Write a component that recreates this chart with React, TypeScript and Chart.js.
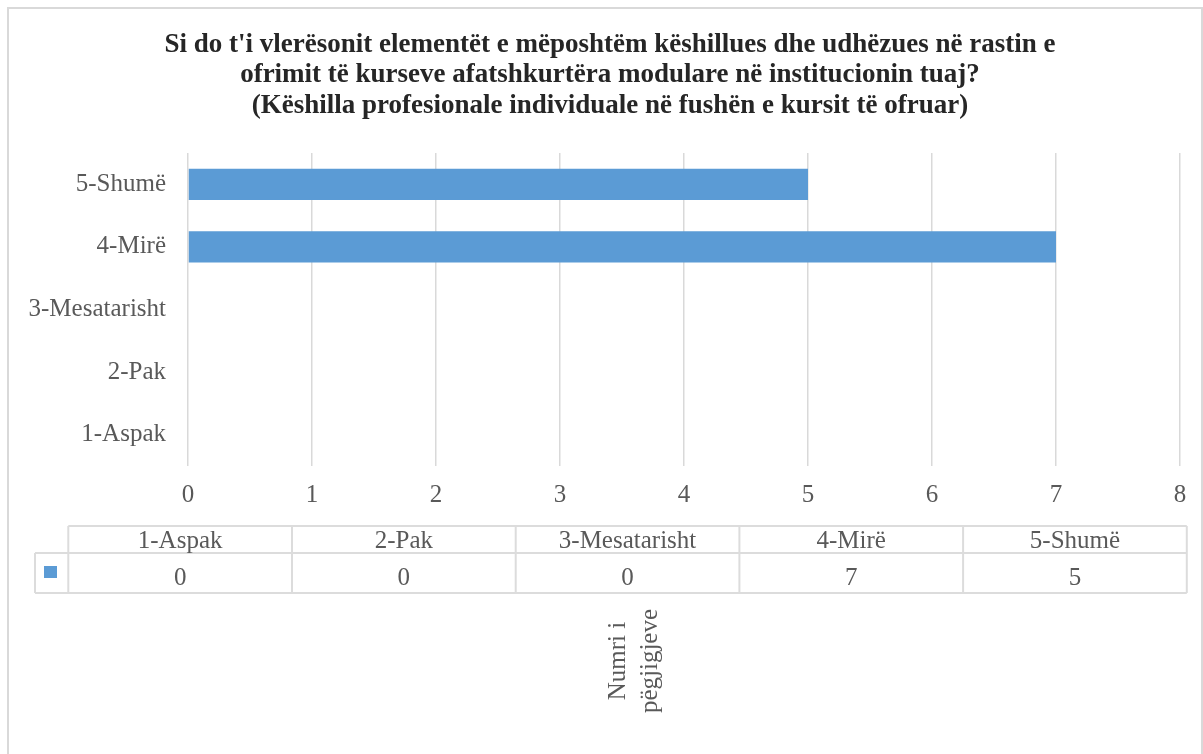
import React, { useEffect, useRef } from "react";
import { Chart, registerables } from "chart.js";

Chart.register(...registerables);

// ---- data ----
const categories: string[] = ["1-Aspak", "2-Pak", "3-Mesatarisht", "4-Mirë", "5-Shumë"];
const responses: number[] = [0, 0, 0, 7, 5];
const xTicksMin = 0;
const xTicksMax = 8;
const titleLines: string[] = [
  "Si do t'i vlerësonit elementët e mëposhtëm këshillues dhe udhëzues në rastin e",
  "ofrimit të kurseve afatshkurtëra modulare në institucionin tuaj?",
  "(Këshilla profesionale individuale në fushën e kursit të ofruar)",
];
const axisTitleLines: string[] = ["Numri i", "pëgjigjeve"];

// ---- styles ----
const BAR_COLOR = "#5b9bd5";
const FONT = '"Liberation Serif", "Times New Roman", serif';
const TEXT_COLOR = "#595959";
const LINE_COLOR = "#dcdcdc";
const LABEL_SIZE = 25;
const CW = 1192;
const CH = 752;
const OX = 9;
const OY = 9;

const decorPlugin = {
  id: "decor",
  afterDraw(chart: any) {
    const ctx: CanvasRenderingContext2D = chart.ctx;
    ctx.save();

    // title
    ctx.fillStyle = "#262626";
    ctx.font = `bold 27px ${FONT}`;
    ctx.textAlign = "center";
    ctx.textBaseline = "middle";
    const tY = [45, 75.5, 106];
    titleLines.forEach((l, i) => ctx.fillText(l, 610 - OX, tY[i] - OY));

    // data table
    const labels: string[] = chart.data.labels;
    const vals: number[] = chart.data.datasets[0].data;
    const n = labels.length;
    const colL = 68.3 - OX;
    const colW = 223.7;
    const legL = 35 - OX;
    const hT = 526 - OY;
    const hB = 553 - OY;
    const dB = 593 - OY;
    const right = colL + n * colW;
    ctx.strokeStyle = LINE_COLOR;
    ctx.lineWidth = 2;
    ctx.beginPath();
    ctx.moveTo(colL, hT);
    ctx.lineTo(right, hT);
    ctx.moveTo(legL, hB);
    ctx.lineTo(right, hB);
    ctx.moveTo(legL, dB);
    ctx.lineTo(right, dB);
    ctx.moveTo(legL, hB);
    ctx.lineTo(legL, dB);
    for (let i = 0; i <= n; i++) {
      ctx.moveTo(colL + i * colW, hT);
      ctx.lineTo(colL + i * colW, dB);
    }
    ctx.stroke();

    ctx.fillStyle = TEXT_COLOR;
    ctx.font = `${LABEL_SIZE}px ${FONT}`;
    ctx.textAlign = "center";
    ctx.textBaseline = "middle";
    for (let i = 0; i < n; i++) {
      const cx = colL + (i + 0.5) * colW;
      ctx.fillText(labels[i], cx, 541 - OY);
      ctx.fillText(String(vals[i]), cx, 578 - OY);
    }
    ctx.fillStyle = BAR_COLOR;
    ctx.fillRect(44 - OX, 566 - OY, 13, 12);

    // rotated axis title
    ctx.fillStyle = TEXT_COLOR;
    ctx.font = `${LABEL_SIZE}px ${FONT}`;
    ctx.translate(634 - OX, 661 - OY);
    ctx.rotate(-Math.PI / 2);
    ctx.textAlign = "center";
    ctx.textBaseline = "middle";
    const lh = 32;
    axisTitleLines.forEach((l, i) => {
      ctx.fillText(l, 0, (i - (axisTitleLines.length - 1) / 2) * lh);
    });

    ctx.restore();
  },
};

export default function App() {
  const ref = useRef<HTMLCanvasElement | null>(null);

  useEffect(() => {
    if (!ref.current) return;
    const plotLeft = 188 - OX;
    const plotRight = 1180 - OX;
    const plotTop = 153 - OY;
    const plotBottom = 466 - OY;
    const xAxisH = 50;
    const chart = new Chart(ref.current, {
      type: "bar",
      data: {
        labels: categories,
        datasets: [
          {
            label: "Numri i pëgjigjeve",
            data: responses,
            backgroundColor: BAR_COLOR,
            borderWidth: 0,
            categoryPercentage: 1,
            barPercentage: 0.5,
          },
        ],
      },
      options: {
        indexAxis: "y",
        responsive: false,
        animation: false,
        devicePixelRatio: 1,
        layout: {
          padding: {
            top: plotTop,
            left: 0,
            right: CW - plotRight,
            bottom: CH - plotBottom - xAxisH,
          },
        },
        plugins: {
          legend: { display: false },
          title: { display: false },
          tooltip: { enabled: false },
        },
        scales: {
          x: {
            min: xTicksMin,
            max: xTicksMax,
            ticks: {
              stepSize: 1,
              color: TEXT_COLOR,
              font: { family: FONT, size: LABEL_SIZE },
              padding: 14,
            },
            grid: { color: "#d9d9d9", lineWidth: 1.5, drawTicks: false },
            border: { display: false },
            afterFit: (s: any) => {
              s.height = xAxisH;
            },
          },
          y: {
            reverse: true,
            ticks: {
              color: TEXT_COLOR,
              font: { family: FONT, size: LABEL_SIZE },
              padding: 22,
            },
            grid: { display: false, drawTicks: false },
            border: { display: false },
            afterFit: (s: any) => {
              s.width = plotLeft;
            },
          },
        },
      },
      plugins: [decorPlugin],
    });
    return () => chart.destroy();
  }, []);

  return (
    <div
      style={{
        position: "fixed",
        left: 7,
        top: 7,
        width: 1196,
        height: 756,
        border: "2px solid #d9d9d9",
        boxSizing: "border-box",
        background: "#fff",
      }}
    >
      <canvas ref={ref} width={CW} height={CH} style={{ display: "block", width: CW, height: CH }} />
    </div>
  );
}
